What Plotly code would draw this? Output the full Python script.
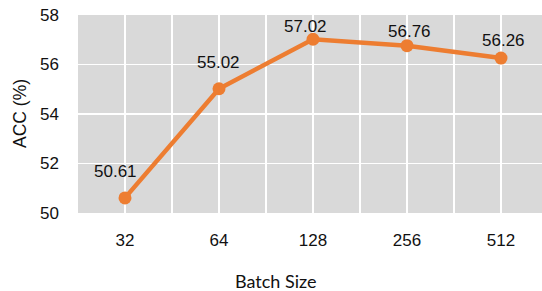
import plotly.graph_objects as go

batch_sizes = ["32", "64", "128", "256", "512"]
acc = [50.61, 55.02, 57.02, 56.76, 56.26]
y_ticks = [50, 52, 54, 56, 58]

# label placement (pixel shifts from each point)
label_dx = [-9.5, -1, -8, 2, 2.5]
label_dy = [26.5, 26, 12.5, 13.7, 17.7]

xs = list(range(len(batch_sizes)))
orange = "#ED7D31"
txt = "#111111"

fig = go.Figure()
fig.add_trace(go.Scatter(
    x=xs, y=acc, mode="lines+markers",
    line=dict(color=orange, width=4.5),
    marker=dict(color=orange, size=13),
    hoverinfo="skip", showlegend=False,
))

for i, v in enumerate(acc):
    fig.add_annotation(
        x=xs[i], y=v, text=f"{v:.2f}", showarrow=False,
        yshift=label_dy[i], xshift=label_dx[i],
        font=dict(family="Liberation Sans, Arial", size=17, color=txt),
    )

# axis titles
fig.add_annotation(
    xref="paper", yref="paper", x=0.4267, y=-0.343,
    xanchor="center", yanchor="middle", showarrow=False,
    text="Batch Size", font=dict(family="Lato, Noto Sans", size=18, color=txt),
)
fig.add_annotation(
    xref="paper", yref="paper", x=-0.125, y=0.5, textangle=-90,
    xanchor="center", yanchor="middle", showarrow=False,
    text="ACC (%)", font=dict(family="Liberation Sans, Arial", size=17.5, color=txt),
)

tickvals = []
ticktext = []
for i, lab in enumerate(batch_sizes):
    tickvals.append(i)
    ticktext.append(lab)
    tickvals.append(i + 0.5)
    ticktext.append("")

fig.update_layout(
    width=542, height=291,
    margin=dict(l=78, r=0, t=15, b=78, autoexpand=False),
    plot_bgcolor="#D9D9D9", paper_bgcolor="white",
    hovermode=False,
    xaxis=dict(
        range=[-0.5, 4.436], tickvals=tickvals, ticktext=ticktext,
        showgrid=True, gridcolor="white", gridwidth=1.5, zeroline=False,
        ticks="", ticklabelstandoff=15, ticklabeloverflow="allow",
        tickfont=dict(family="Liberation Sans, Arial", size=17, color=txt),
    ),
    yaxis=dict(
        range=[50, 58], tickvals=y_ticks,
        showgrid=True, gridcolor="white", gridwidth=1.5, zeroline=False,
        ticks="", ticklabelstandoff=18, ticklabeloverflow="allow",
        tickfont=dict(family="Liberation Sans, Arial", size=17, color=txt),
    ),
)

fig.write_html(
    "out.html",
    config={"displayModeBar": False, "staticPlot": True},
    post_script="document.body.style.margin='0';document.body.style.overflow='hidden';",
)
